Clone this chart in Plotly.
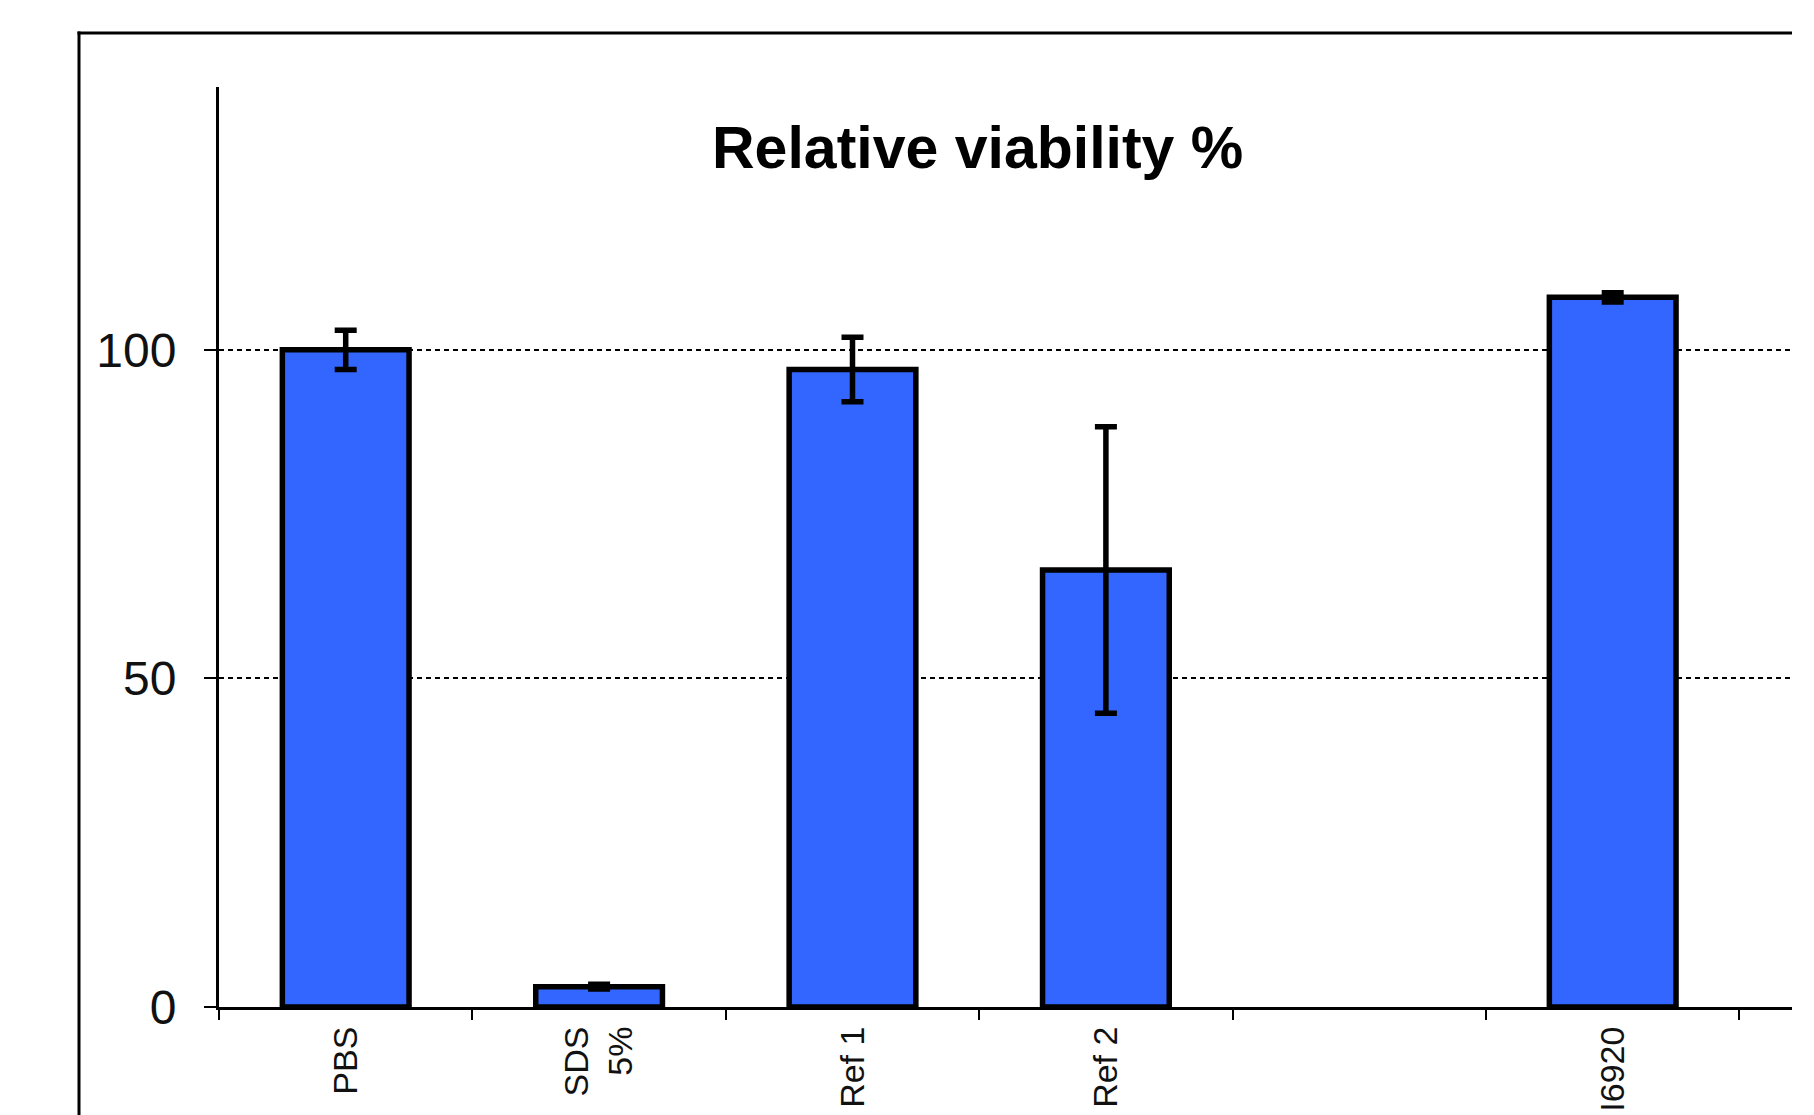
import plotly.graph_objects as go

categories = ["PBS", "SDS<br>5%", "Ref 1", "Ref 2", " ", "I6920"]
viability = [100.0, 3.1, 97.0, 66.5, None, 108.0]
errors = [3.0, 0.35, 4.9, 21.8, None, 0.7]
y_ticks = [0, 50, 100]
y_tick_labels = ["0", "50", "100"]
title_text = "Relative viability %"

W, H = 1814, 1115
L, R, T, B = 219, 22, 87, 108
pw = W - L - R
ph = H - T - B
cat_px = 253.4

FONT = "Liberation Sans, Arial, sans-serif"

fig = go.Figure()
fig.add_trace(go.Bar(
    x=categories,
    y=viability,
    width=0.5,
    marker=dict(color="#3366FF", line=dict(color="black", width=5.5)),
    error_y=dict(type="data", array=errors, visible=True,
                 color="black", thickness=5.5, width=11),
    showlegend=False,
))

def px_x(px):
    return (px - L) / pw

def px_y(py):
    return (H - B - py) / ph

fig.update_layout(
    width=W, height=H,
    margin=dict(l=L, r=R, t=T, b=B, pad=0, autoexpand=False),
    paper_bgcolor="white", plot_bgcolor="white",
    font=dict(family=FONT, color="black"),
    xaxis=dict(
        categoryorder="array", categoryarray=categories,
        range=[-0.5, -0.5 + pw / cat_px],
        automargin=False,
        showline=True, linecolor="black", linewidth=3,
        ticks="outside", tickson="boundaries", ticklen=10, tickwidth=2, tickcolor="black",
        tickangle=-90, tickfont=dict(size=34, family=FONT, color="#111"),
        ticklabelstandoff=3,
        showgrid=False, zeroline=False,
    ),
    yaxis=dict(
        range=[0, 140],
        automargin=False,
        tickvals=y_ticks, ticktext=y_tick_labels,
        showline=True, linecolor="black", linewidth=3,
        ticks="outside", ticklen=12, tickwidth=2, tickcolor="black",
        tickfont=dict(size=48, family=FONT, color="#111"),
        ticklabelstandoff=18,
        showgrid=True, gridcolor="black", gridwidth=2, griddash="5px,4px",
        zeroline=False,
    ),
    annotations=[dict(
        text="<b>" + title_text + "</b>",
        xref="paper", yref="paper",
        x=px_x(977.6), y=px_y(148.5),
        xanchor="center", yanchor="middle",
        showarrow=False,
        font=dict(size=59, family=FONT, color="black"),
    )],
    shapes=[
        dict(type="line", xref="paper", yref="paper",
             x0=px_x(79), x1=px_x(79), y0=px_y(31.5), y1=px_y(1130),
             line=dict(color="black", width=3)),
        dict(type="line", xref="paper", yref="paper",
             x0=px_x(77.5), x1=1.0, y0=px_y(33), y1=px_y(33),
             line=dict(color="black", width=3)),
    ],
)

fig.write_html(
    "out.html",
    config={"displayModeBar": False},
    post_script="document.body.style.margin='0';document.body.style.overflow='hidden';",
)
